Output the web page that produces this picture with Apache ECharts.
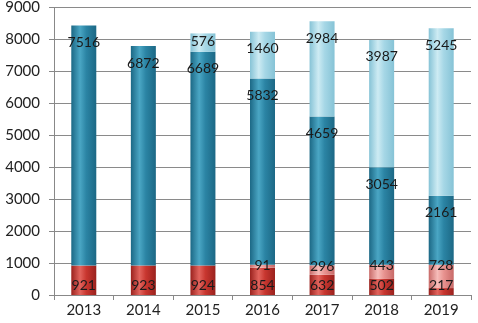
<!DOCTYPE html>
<html>
<head>
<meta charset="utf-8">
<script src="https://cdn.jsdelivr.net/npm/echarts@6/dist/echarts.min.js"></script>
<style>
  html, body { margin: 0; padding: 0; background: #fff; }
  #chart { width: 478px; height: 323px; }
</style>
</head>
<body>
<div id="chart"></div>
<script>
const years = ['2013', '2014', '2015', '2016', '2017', '2018', '2019']
const redVals = [921, 923, 924, 854, 632, 502, 217]
const pinkVals = [null, null, null, 91, 296, 443, 728]
const tealVals = [7516, 6872, 6689, 5832, 4659, 3054, 2161]
const lightVals = [null, null, 576, 1460, 2984, 3987, 5245]
const yTicks = [0, 1000, 2000, 3000, 4000, 5000, 6000, 7000, 8000, 9000]

// cylinder-like horizontal gradient
function tube(edge, mid, hi) {
  return new echarts.graphic.LinearGradient(0, 0, 1, 0, [
    { offset: 0, color: edge },
    { offset: 0.35, color: hi },
    { offset: 0.6, color: mid },
    { offset: 1, color: edge },
  ])
}

const labelFont = { fontFamily: 'Lato, sans-serif', fontSize: 14, color: '#1a1a1a' }

// the small 576 segment has its label sitting right under the top
const lightData = lightVals.map((v, i) =>
  i === 2 ? { value: v, label: { distance: 1 } } : v)

const chart = echarts.init(document.getElementById('chart'))
chart.setOption({
  animation: false,
  grid: { left: 54, right: 7, top: 7, bottom: 28 },
  xAxis: {
    type: 'category',
    data: years,
    axisLine: { lineStyle: { color: '#888', width: 1 } },
    axisTick: { show: true, length: 5, lineStyle: { color: '#888' } },
    axisLabel: { fontFamily: 'Lato, sans-serif', fontSize: 15, color: '#222', margin: 8 },
  },
  yAxis: {
    type: 'value',
    min: 0,
    max: 9000,
    interval: 1000,
    axisLine: { show: true, lineStyle: { color: '#888' } },
    axisTick: { show: true, length: 5, lineStyle: { color: '#888' } },
    splitLine: { lineStyle: { color: '#8a8a8a', width: 1 } },
    axisLabel: {
      fontFamily: 'Lato, sans-serif',
      fontSize: 15,
      color: '#222',
      margin: 14,
      formatter: v => (yTicks.includes(v) ? String(v) : ''),
    },
  },
  series: [
    {
      name: 'red',
      type: 'bar',
      stack: 'a',
      barWidth: 25,
      data: redVals,
      itemStyle: { color: tube('#9a221e', '#c8362f', '#e2645d') },
      label: { show: true, position: 'insideBottom', distance: 3, ...labelFont },
    },
    {
      name: 'pink',
      type: 'bar',
      stack: 'a',
      barWidth: 25,
      data: pinkVals,
      itemStyle: { color: tube('#c86a68', '#e89390', '#f6bcb9') },
      label: { show: true, position: 'insideTop', distance: -6, ...labelFont },
    },
    {
      name: 'teal',
      type: 'bar',
      stack: 'a',
      barWidth: 25,
      data: tealVals,
      itemStyle: { color: tube('#1c6885', '#2b84a4', '#4aa6c4') },
      label: { show: true, position: 'insideTop', distance: 10, ...labelFont },
    },
    {
      name: 'light',
      type: 'bar',
      stack: 'a',
      barWidth: 25,
      data: lightData,
      itemStyle: { color: tube('#86c3d6', '#a6d7e6', '#cdebf3') },
      label: { show: true, position: 'insideTop', distance: 10, ...labelFont },
    },
  ],
})
</script>
</body>
</html>
